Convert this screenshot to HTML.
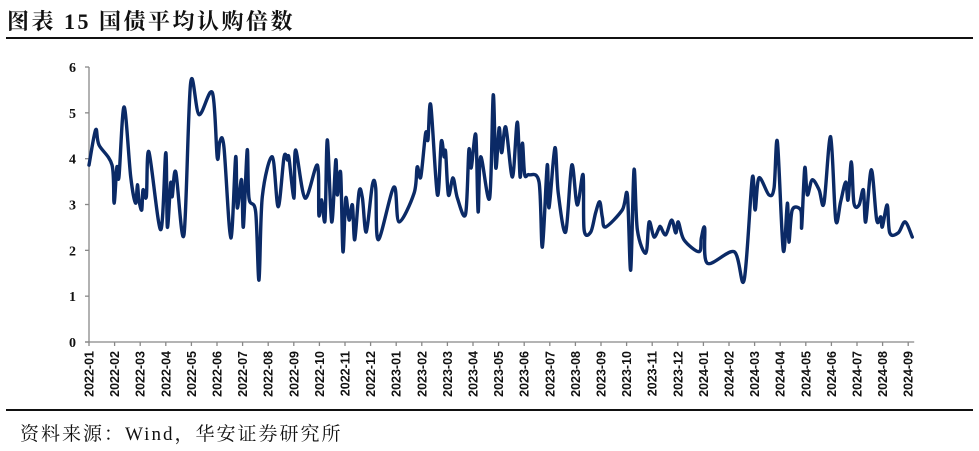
<!DOCTYPE html>
<html><head><meta charset="utf-8"><style>
body{margin:0;background:#fff;width:979px;height:451px;overflow:hidden;position:relative;font-family:"Liberation Serif","Noto Serif CJK SC",serif}
#title{position:absolute;left:7px;top:5px;font-size:22px;font-weight:bold;color:#111;letter-spacing:2.5px}
#tline{position:absolute;left:6px;top:37px;width:967px;height:2px;background:#111}
#fline{position:absolute;left:6px;top:409px;width:967px;height:2px;background:#111}
#source{position:absolute;left:20px;top:419px;font-size:19px;color:#111;letter-spacing:2px}
svg{position:absolute;left:0;top:0}
</style></head><body>
<div id="title">图表 15 国债平均认购倍数</div>
<div id="tline"></div>
<svg id="chart" width="979" height="451"></svg>
<div id="fline"></div>
<div id="source">资料来源：Wind，华安证券研究所</div>
<script>
const monthLabels=["2022-01","2022-02","2022-03","2022-04","2022-05","2022-06","2022-07","2022-08","2022-09","2022-10","2022-11","2022-12","2023-01","2023-02","2023-03","2023-04","2023-05","2023-06","2023-07","2023-08","2023-09","2023-10","2023-11","2023-12","2024-01","2024-02","2024-03","2024-04","2024-05","2024-06","2024-07","2024-08","2024-09"];
const yTicks=[0,1,2,3,4,5,6];
const times=[0,.26,.39,.90,.98,1.09,1.17,1.37,1.63,1.82,1.89,1.95,2.06,2.11,2.24,2.34,2.80,3.0,3.06,3.19,3.25,3.39,3.71,3.97,4.30,4.82,5.01,5.11,5.27,5.54,5.73,5.79,5.96,6.03,6.18,6.25,6.51,6.64,6.77,7.16,7.39,7.62,7.75,7.81,8.01,8.07,8.44,8.92,8.98,9.09,9.22,9.31,9.48,9.64,9.70,9.83,9.92,10.03,10.16,10.29,10.38,10.55,10.68,10.83,11.07,11.20,11.30,11.91,12.11,12.70,12.82,12.96,13.15,13.24,13.35,13.61,13.76,13.87,13.93,14.04,14.22,14.39,14.71,14.84,14.93,15.11,15.20,15.30,15.65,15.79,15.89,16.02,16.12,16.28,16.54,16.73,16.84,16.93,17.02,17.19,17.58,17.71,17.90,17.97,18.20,18.33,18.62,18.86,19.07,19.30,19.34,19.60,19.79,19.95,20.05,20.18,20.83,21.03,21.16,21.29,21.42,21.75,21.88,22.07,22.27,22.33,22.53,22.76,22.92,23.02,23.24,23.83,23.92,24.05,24.15,25.20,25.59,25.91,26.02,26.17,26.56,26.76,26.89,27.12,27.28,27.34,27.47,27.80,27.84,27.96,28.06,28.25,28.52,28.71,28.97,29.17,29.36,29.56,29.65,29.78,29.88,30.08,30.25,30.34,30.56,30.77,30.93,30.99,31.18,31.28,31.61,31.88,32.16];
const values=[3.86,4.63,4.3,3.86,3.03,3.82,3.6,5.13,3.6,3.03,3.43,3.1,2.88,3.32,3.17,4.15,2.45,4.13,2.51,3.47,3.17,3.71,2.34,5.65,4.96,5.44,4.02,4.37,4.26,2.27,4.04,2.93,3.54,2.51,4.19,3.14,2.84,1.35,3.17,4.04,2.95,4.04,3.97,4.02,3.14,4.19,3.14,3.86,2.77,3.1,2.66,4.41,2.62,3.97,3.21,3.69,1.97,3.14,2.66,2.99,2.23,3.28,3.14,2.40,3.43,3.36,2.23,3.38,2.62,3.25,3.82,3.6,4.56,4.41,5.17,3.21,4.37,4.04,4.15,3.21,3.58,3.14,2.79,4.19,3.80,4.52,2.84,4.04,3.14,5.39,3.80,4.67,4.13,4.69,3.6,4.80,3.6,4.34,3.65,3.65,3.49,2.07,3.86,2.93,4.24,3.25,2.40,3.86,2.99,3.65,2.45,2.40,2.82,3.06,2.73,2.51,2.88,3.21,1.57,3.76,2.45,1.94,2.62,2.29,2.49,2.51,2.34,2.66,2.38,2.62,2.23,1.97,2.27,2.49,1.72,1.97,1.35,3.58,2.88,3.58,3.21,3.36,4.37,2.0,3.03,2.18,2.88,2.88,2.51,3.80,3.21,3.54,3.32,3.03,4.48,2.66,3.06,3.49,3.1,3.93,3.03,2.99,3.32,2.62,3.76,2.66,2.73,2.51,2.99,2.38,2.38,2.62,2.29];

const NS="http://www.w3.org/2000/svg";
const svg=document.getElementById('chart');
const X0=89,MW=25.6,Y0=342,YU=45.83;
const xs=m=>X0+m*MW, ys=v=>Y0-v*YU;
function mk(t,a){const e=document.createElementNS(NS,t);for(const k in a)e.setAttribute(k,a[k]);svg.appendChild(e);return e;}

const yaxis=mk('line',{x1:X0,y1:ys(6),x2:X0,y2:Y0,stroke:'#888','stroke-width':1.3});


const xaxis=mk('line',{x1:X0-4,y1:Y0,x2:xs(32)+6,y2:Y0,stroke:'#888','stroke-width':1.3});


yTicks.forEach(v=>{
  const tk=mk('line',{x1:X0-4,y1:ys(v),x2:X0,y2:ys(v),stroke:'#888','stroke-width':1.3});
  
  
  const t=mk('text',{x:X0-13,y:ys(v)+5,'text-anchor':'end','font-size':14,'font-weight':'bold','font-family':'Liberation Serif, serif',fill:'#111'});
  t.textContent=v;
  
  
});
monthLabels.forEach((lb,i)=>{
  const x=xs(i);
  const tk=mk('line',{x1:x,y1:Y0,x2:x,y2:Y0+4,stroke:'#888','stroke-width':1.3});
  
  
  const t=mk('text',{x:0,y:0,'text-anchor':'end','font-size':12.5,'font-weight':'bold','font-family':'Liberation Sans, sans-serif',fill:'#111',transform:`translate(${x+4.5},${Y0+9}) rotate(-90)`});
  t.textContent=lb;
  
  
});
const pts=times.map((m,i)=>[xs(m),ys(values[i])]);
let d=`M${pts[0][0]},${pts[0][1]}`;
for(let i=0;i<pts.length-1;i++){
  const p0=pts[Math.max(0,i-1)],p1=pts[i],p2=pts[i+1],p3=pts[Math.min(pts.length-1,i+2)];
  const k=0.16;
  const c1=[p1[0]+(p2[0]-p0[0])*k,p1[1]+(p2[1]-p0[1])*k];
  const c2=[p2[0]-(p3[0]-p1[0])*k,p2[1]-(p3[1]-p1[1])*k];
  d+=` C${c1[0]},${c1[1]} ${c2[0]},${c2[1]} ${p2[0]},${p2[1]}`;
}
const line=mk('path',{d:d,fill:'none',stroke:'#0b2a66','stroke-width':3.4,'stroke-linejoin':'round','stroke-linecap':'round'});


</script>
</body></html>
